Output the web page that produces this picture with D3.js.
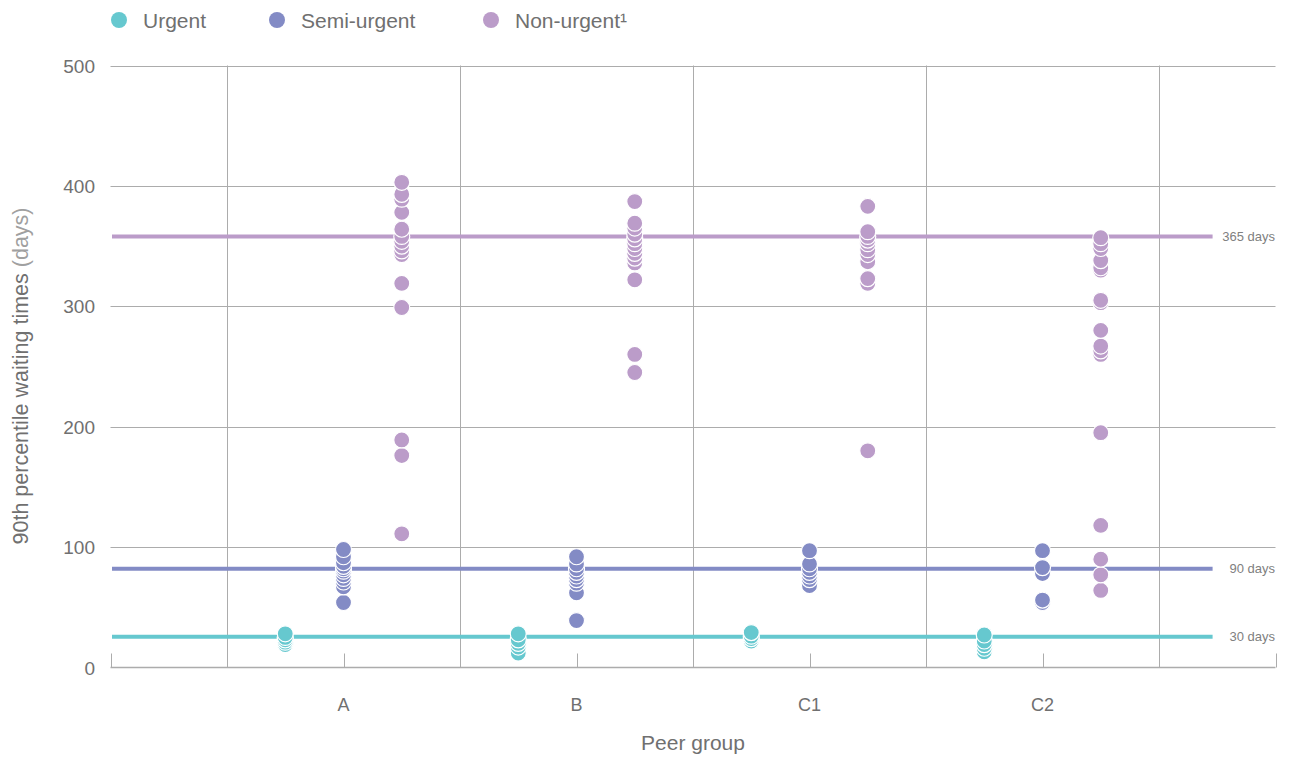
<!DOCTYPE html>
<html>
<head>
<meta charset="utf-8">
<script src="https://cdn.jsdelivr.net/npm/d3@7"></script>
<style>
  html, body { margin: 0; padding: 0; background: #fff; }
  svg { display: block; font-family: "Liberation Sans", Arial, sans-serif; }
</style>
</head>
<body>
<svg id="chart" width="1289" height="760"></svg>
<script>
// ---- Data ----
const categories = ["A", "B", "C1", "C2"];
const seriesNames = ["Urgent", "Semi-urgent", "Non-urgent"];
const seriesColors = ["#66c8cf", "#838bc5", "#bb9cc9"];
const seriesOffsets = [-0.25, 0, 0.25];

const urgentValues = [
  [19, 21, 23, 25, 28],
  [12, 17, 20, 23, 28],
  [22, 24, 26, 29],
  [13, 16, 19, 22, 27]
];
const semiUrgentValues = [
  [54, 67, 71, 74, 77, 80, 82, 84, 87, 92, 98],
  [39, 62, 70, 73, 76, 79, 82, 86, 92],
  [68, 73, 76, 79, 82, 86, 97],
  [54, 56, 78, 83, 97]
];
const nonUrgentValues = [
  [111, 176, 189, 299, 319, 343, 346, 350, 354, 358, 364, 378, 389, 393, 403],
  [245, 260, 322, 336, 340, 344, 348, 352, 356, 360, 365, 369, 387],
  [180, 319, 323, 337, 343, 347, 352, 355, 358, 362, 383],
  [64, 77, 90, 118, 195, 260, 263, 267, 280, 303, 305, 330, 332, 338, 348, 352, 357]
];

const refValues = [25.5, 82, 358];
const refLabels = ["30 days", "90 days", "365 days"];
const refColors = ["#66c8cf", "#838bc5", "#bb9cc9"];

const yTicks = [0, 100, 200, 300, 400, 500];
const legendLabels = ["Urgent", "Semi-urgent", "Non-urgent\u00b9"];

// ---- Layout ----
const svg = d3.select("#chart");
const x = d3.scaleLinear().domain([0, 5]).range([110.5, 1275.5]);
const y = d3.scaleLinear().domain([0, 500]).range([667.5, 65.5]);
const gridColor = "#acacac";
const textColor = "#707070";

// horizontal gridlines
svg.append("g").selectAll("line").data(yTicks.filter(d => d > 0)).join("line")
  .attr("x1", x(0)).attr("x2", x(5))
  .attr("y1", d => Math.round(y(d)) + 0.5).attr("y2", d => Math.round(y(d)) + 0.5)
  .attr("stroke", gridColor).attr("stroke-width", 1);

// vertical gridlines between categories
svg.append("g").selectAll("line").data([0.5, 1.5, 2.5, 3.5, 4.5]).join("line")
  .attr("x1", d => Math.round(x(d)) + 0.5).attr("x2", d => Math.round(x(d)) + 0.5)
  .attr("y1", y(500)).attr("y2", y(0))
  .attr("stroke", gridColor).attr("stroke-width", 1);

// bottom axis line
svg.append("line")
  .attr("x1", x(0)).attr("x2", x(5))
  .attr("y1", y(0)).attr("y2", y(0))
  .attr("stroke", gridColor).attr("stroke-width", 1.5);

// inward ticks at category positions and ends
svg.append("g").selectAll("line").data([0, 1, 2, 3, 4, 5]).join("line")
  .attr("x1", d => Math.round(x(d)) + 0.5).attr("x2", d => Math.round(x(d)) + 0.5)
  .attr("y1", y(0)).attr("y2", y(0) - 14)
  .attr("stroke", gridColor).attr("stroke-width", 1);

// y tick labels
svg.append("g").selectAll("text").data(yTicks).join("text")
  .attr("x", 95).attr("y", d => y(d) + 7)
  .attr("text-anchor", "end")
  .attr("font-size", 19).attr("fill", textColor)
  .text(d => d);

// x labels
svg.append("g").selectAll("text").data(categories).join("text")
  .attr("x", (d, i) => x(i + 1)).attr("y", 711)
  .attr("text-anchor", "middle")
  .attr("font-size", 18).attr("fill", textColor)
  .text(d => d);

// axis titles
svg.append("text")
  .attr("x", x(2.5)).attr("y", 750)
  .attr("text-anchor", "middle")
  .attr("font-size", 21).attr("fill", textColor)
  .text("Peer group");

const yt = svg.append("text")
  .attr("transform", "translate(28,376) rotate(-90)")
  .attr("text-anchor", "middle")
  .attr("font-size", 21.5).attr("fill", textColor);
yt.append("tspan").text("90th percentile waiting times ");
yt.append("tspan").attr("fill", "#a0a0a0").text("(days)");

// reference lines
svg.append("g").selectAll("line").data(refValues).join("line")
  .attr("x1", 112).attr("x2", x(4.73))
  .attr("y1", d => y(d)).attr("y2", d => y(d))
  .attr("stroke", (d, i) => refColors[i]).attr("stroke-width", 4);

svg.append("g").selectAll("text").data(refValues).join("text")
  .attr("x", 1275).attr("y", d => y(d) + 4.5)
  .attr("text-anchor", "end")
  .attr("font-size", 13).attr("fill", "#808080")
  .text((d, i) => refLabels[i]);

// dots
const allSeries = [urgentValues, semiUrgentValues, nonUrgentValues];
allSeries.forEach((groups, s) => {
  const pts = [];
  groups.forEach((vals, gi) => {
    vals.slice().sort((a, b) => a - b).forEach(v => pts.push({ g: gi, v: v }));
  });
  svg.append("g").selectAll("circle").data(pts).join("circle")
    .attr("cx", d => x(d.g + 1 + seriesOffsets[s]))
    .attr("cy", d => y(d.v))
    .attr("r", 8)
    .attr("fill", seriesColors[s])
    .attr("stroke", "#fff").attr("stroke-width", 1.2);
});

// legend
const legendX = [119, 277, 491];
const lg = svg.append("g");
lg.selectAll("circle").data(legendLabels).join("circle")
  .attr("cx", (d, i) => legendX[i]).attr("cy", 20).attr("r", 8)
  .attr("fill", (d, i) => seriesColors[i]);
lg.selectAll("text").data(legendLabels).join("text")
  .attr("x", (d, i) => legendX[i] + 24).attr("y", 28)
  .attr("font-size", 21).attr("fill", textColor)
  .text(d => d);
</script>
</body>
</html>
